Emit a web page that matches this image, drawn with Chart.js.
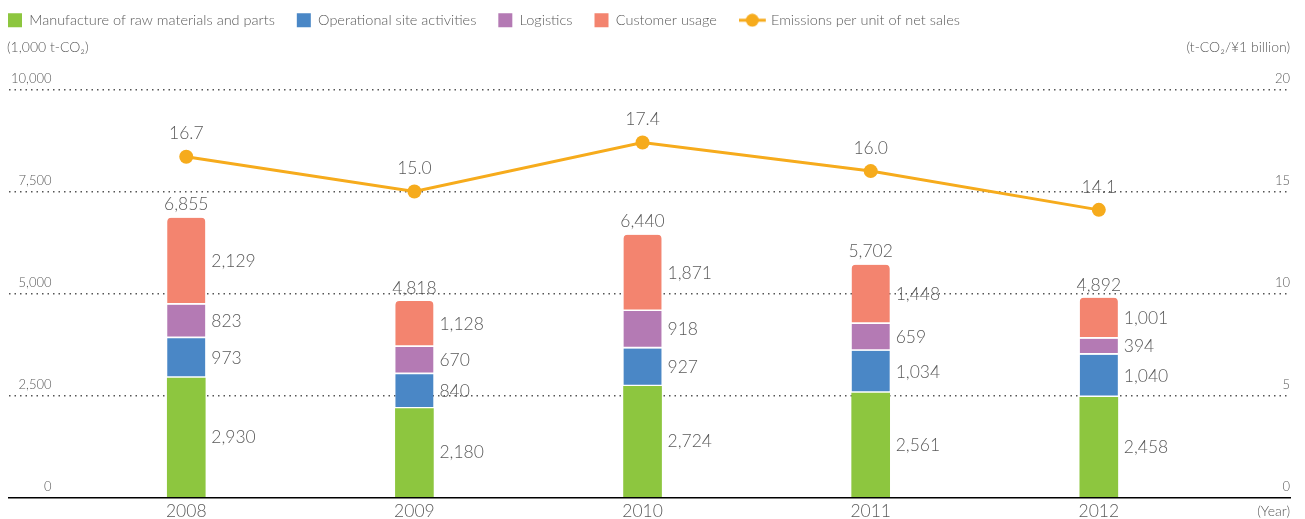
<!DOCTYPE html>
<html>
<head>
<meta charset="utf-8">
<script src="https://cdn.jsdelivr.net/npm/chart.js@4.4.1/dist/chart.umd.min.js"></script>
<style>
  html, body { margin: 0; padding: 0; background: #fff; }
  #wrap { width: 1305px; height: 519px; position: relative; }
</style>
</head>
<body>
<div id="wrap"><canvas id="myChart"></canvas></div>
<script>
const years = ['2008', '2009', '2010', '2011', '2012'];
const manufacture = [2930, 2180, 2724, 2561, 2458];
const operational = [973, 840, 927, 1034, 1040];
const logistics = [823, 670, 918, 659, 394];
const customer = [2129, 1128, 1871, 1448, 1001];
const totals = [6855, 4818, 6440, 5702, 4892];
const perSales = [16.7, 15.0, 17.4, 16.0, 14.1];
const leftTicks = [0, 2500, 5000, 7500, 10000];
const rightTicks = [0, 5, 10, 15, 20];

const textColor = '#5a5a5a';
const orange = '#f6ab1c';
const fontFamily = 'Lato';

// line + dot marker for the legend (drawn in the left part, so it sits before the text)
const lineMarker = document.createElement('canvas');
lineMarker.width = 36;
lineMarker.height = 14;
(function () {
  const c = lineMarker.getContext('2d');
  c.strokeStyle = orange;
  c.lineWidth = 3;
  c.beginPath();
  c.moveTo(0, 7);
  c.lineTo(27, 7);
  c.stroke();
  c.fillStyle = orange;
  c.beginPath();
  c.arc(13.5, 7, 6.5, 0, Math.PI * 2);
  c.fill();
})();

const toPoints = arr => arr.map((v, i) => ({ x: i, y: v }));
const fmt = v => v.toLocaleString('en-US');

function barSet(label, values, color, extra) {
  return Object.assign({
    type: 'bar',
    label,
    data: toPoints(values),
    backgroundColor: color,
    borderColor: '#ffffff',
    borderWidth: { top: 0, left: 0, right: 0, bottom: 2 },
    borderSkipped: false,
    barThickness: 38,
    yAxisID: 'y',
    order: 1
  }, extra || {});
}

const datasets = [
  barSet('Manufacture of raw materials and parts', manufacture, '#8dc63f', { borderWidth: 0 }),
  barSet('Operational site activities', operational, '#4a87c6'),
  barSet('Logistics', logistics, '#b47ab4'),
  barSet('Customer usage', customer, '#f3846f', { borderRadius: { topLeft: 4, topRight: 4, bottomLeft: 0, bottomRight: 0 } }),
  {
    type: 'line',
    label: 'Emissions per unit of net sales',
    data: toPoints(perSales),
    borderColor: orange,
    backgroundColor: orange,
    borderWidth: 3,
    pointRadius: 7,
    pointBorderWidth: 0,
    pointBackgroundColor: orange,
    tension: 0,
    yAxisID: 'y2',
    order: 0
  }
];

// extra room between legend and plot, legend pulled to the left edge
const legendMargin = {
  id: 'legendMargin',
  beforeInit(chart) {
    const fit = chart.legend.fit;
    chart.legend.fit = function () {
      fit.call(this);
      this.height += 52;
    };
  },
  afterLayout(chart) {
    chart.legend.left = -14;
  }
};

// value labels and axis captions
const labelPlugin = {
  id: 'valueLabels',
  afterDatasetsDraw(chart) {
    const ctx = chart.ctx;
    ctx.save();
    ctx.fillStyle = textColor;
    ctx.font = '300 17.5px ' + fontFamily;
    ctx.textBaseline = 'middle';
    chart.data.datasets.forEach((ds, i) => {
      const meta = chart.getDatasetMeta(i);
      meta.data.forEach((el, j) => {
        const v = ds.data[j].y;
        if (ds.type === 'line') {
          ctx.textAlign = 'center';
          ctx.fillText(v.toFixed(1), el.x, el.y - 23);
        } else {
          ctx.textAlign = 'left';
          ctx.fillText(fmt(v), el.x + el.width / 2 + 6, (el.y + el.base) / 2);
        }
      });
    });
    const top = chart.getDatasetMeta(3);
    ctx.textAlign = 'center';
    top.data.forEach((el, j) => {
      ctx.fillText(fmt(totals[j]), el.x, el.y - 13);
    });

    ctx.font = '300 14px ' + fontFamily;
    ctx.textAlign = 'left';
    ctx.fillText('(1,000 t-CO₂)', 7, 47);
    ctx.textAlign = 'right';
    ctx.fillText('(t-CO₂/¥1 billion)', 1290, 47);
    ctx.fillText('(Year)', 1290, 511);
    ctx.restore();
  }
};

const chart = new Chart(document.getElementById('myChart'), {
  data: { datasets },
  options: {
    responsive: true,
    maintainAspectRatio: false,
    animation: false,
    layout: { padding: { top: -9, left: 5, right: 15, bottom: -6 } },
    plugins: {
      tooltip: { enabled: false },
      legend: {
        position: 'top',
        align: 'start',
        labels: {
          color: textColor,
          font: { family: fontFamily, size: 14.5, weight: 300 },
          usePointStyle: true,
          boxWidth: 14,
          boxHeight: 14,
          padding: 22,
          generateLabels(c) {
            return c.data.datasets.map((ds, i) => ({
              // room after the last box item for the wider line marker
              text: i === 3 ? ds.label + '\u2003' : ds.label,
              fillStyle: ds.backgroundColor,
              strokeStyle: ds.backgroundColor,
              lineWidth: 0,
              pointStyle: ds.type === 'line' ? lineMarker : 'rect',
              fontColor: textColor,
              hidden: false,
              datasetIndex: i
            }));
          }
        }
      }
    },
    scales: {
      x: {
        type: 'linear',
        offset: false,
        min: -0.777,
        max: 4.838,
        stacked: true,
        afterBuildTicks: axis => { axis.ticks = years.map((_, i) => ({ value: i })); },
        ticks: {
          callback: v => years[v],
          color: textColor,
          font: { family: fontFamily, size: 17.5, weight: 300, lineHeight: 1 },
          padding: 5,
          maxRotation: 0
        },
        grid: { display: false, drawTicks: false },
        border: { display: true, color: '#000', width: 1.5 }
      },
      y: {
        position: 'left',
        stacked: true,
        min: 0,
        max: 10000,
        afterBuildTicks: axis => { axis.ticks = leftTicks.map(v => ({ value: v })); },
        ticks: {
          mirror: true,
          crossAlign: 'far',
          padding: 2,
          labelOffset: -11,
          color: textColor,
          font: { family: fontFamily, size: 13, weight: 300 },
          callback: v => fmt(v)
        },
        grid: {
          drawTicks: false,
          color: ctx => ctx.tick && ctx.tick.value === 0 ? 'rgba(0,0,0,0)' : '#555',
          lineWidth: 1.5
        },
        border: { display: false, dash: [1.5, 4] }
      },
      y2: {
        position: 'right',
        min: 0,
        max: 20,
        afterBuildTicks: axis => { axis.ticks = rightTicks.map(v => ({ value: v })); },
        ticks: {
          mirror: true,
          padding: 0,
          labelOffset: -11,
          color: textColor,
          font: { family: fontFamily, size: 13, weight: 300 },
          callback: v => String(v)
        },
        grid: { display: false, drawTicks: false },
        border: { display: false }
      }
    }
  },
  plugins: [legendMargin, labelPlugin]
});
</script>
</body>
</html>
